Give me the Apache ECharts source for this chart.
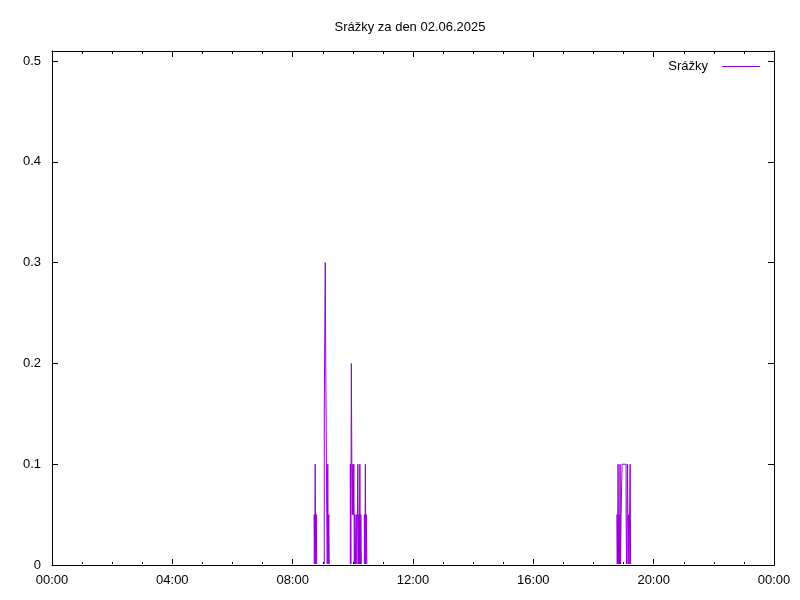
<!DOCTYPE html>
<html>
<head>
<meta charset="utf-8">
<script src="https://cdn.jsdelivr.net/npm/echarts@6/dist/echarts.min.js"></script>
<style>
html,body{margin:0;padding:0;background:#fff;}
#chart{width:800px;height:600px;}
</style>
</head>
<body>
<div id="chart"></div>
<script>
// Rain readings (time of change, value held until the next entry)
var rainTimes = [
  "00:00",
  "08:43","08:44","08:45","08:46","08:47","08:48",
  "09:03","09:05","09:06","09:08","09:09","09:10","09:11","09:12","09:13",
  "09:55","09:56","09:57","09:58","09:59","10:00","10:01","10:02","10:03",
  "10:04","10:05","10:07","10:08","10:10","10:11","10:12","10:13","10:14","10:15","10:16","10:17",
  "10:23","10:24","10:25","10:26","10:27","10:28",
  "18:47","18:48","18:49","18:50","18:51","18:52","18:53","18:54","18:55","18:57","19:05","19:06",
  "19:08","19:09","19:10","19:11","19:13","19:14",
  "24:00"
];
var rainValues = [
  0,
  0.05,0,0.1,0,0.05,0,
  0.15,0.3,0.2,0.05,0,0.1,0,0.05,0,
  0.1,0,0.2,0.1,0.05,0.1,0.05,0.1,0,
  0.05,0,0.05,0,0.1,0,0.05,0,0.1,0,0.05,0,
  0.05,0,0.1,0,0.05,0,
  0.05,0,0.1,0,0.05,0,0.1,0,0.05,0.1,0.05,0,
  0.1,0,0.05,0,0.1,0,
  0
];
var xTickLabels = ["00:00","04:00","08:00","12:00","16:00","20:00","00:00"];
var yTickLabels = ["0","0.1","0.2","0.3","0.4","0.5"];
var titleText = 'Srážky za den 02.06.2025';
var seriesName = 'Srážky';

function toMin(t){var p=t.split(":");return (+p[0])*60+(+p[1]);}
var seriesData = rainTimes.map(function(t,i){return [toMin(t), rainValues[i]];});

var FONT = "Liberation Sans";
var tickStyle = {show:true, inside:true, length:6, lineStyle:{color:'#000', width:1}};
var minorStyle = {show:true, splitNumber:4, length:3, lineStyle:{color:'#000', width:1}};
var lineStyle = {show:true, onZero:false, lineStyle:{color:'#000', width:1}};

var chart = echarts.init(document.getElementById('chart'), null, {renderer:'canvas'});
chart.setOption({
  animation:false,
  backgroundColor:'#fff',
  graphic:[{
    type:'text', x:410, y:27, z:10,
    style:{text:titleText, x:0, y:0, textAlign:'center', textVerticalAlign:'middle',
      font:'13px "Liberation Sans"', fill:'#000'}
  },{
    // hide the anti-aliased half row of the zero-level trace above the border
    type:'line', z:99, silent:true,
    shape:{x1:53, y1:564.5, x2:774, y2:564.5},
    style:{stroke:'#fff', lineWidth:1}
  },{
    // gnuplot border drawn over the plotted data along the baseline
    type:'line', z:100, silent:true,
    shape:{x1:52, y1:565.5, x2:774.5, y2:565.5},
    style:{stroke:'#000', lineWidth:1}
  }],
  legend:{
    right:35, top:55, align:'right', icon:'rect',
    itemWidth:38, itemHeight:1,
    textStyle:{fontFamily:FONT, fontSize:13, color:'#000', padding:[0,9,0,0]},
    data:[seriesName]
  },
  grid:{left:52, right:26, top:51, bottom:35, containLabel:false},
  xAxis:[{
    type:'value', min:0, max:1440, interval:240, z:5,
    axisLine:lineStyle, axisTick:tickStyle, minorTick:minorStyle,
    splitLine:{show:false},
    axisLabel:{margin:9, fontFamily:FONT, fontSize:13, color:'#000',
      formatter:function(v){return xTickLabels[Math.round(v/240)];}}
  },{
    type:'value', position:'top', min:0, max:1440, interval:240, z:5,
    axisLine:lineStyle, axisTick:tickStyle, minorTick:minorStyle,
    splitLine:{show:false}, axisLabel:{show:false}
  }],
  yAxis:[{
    type:'value', min:0, max:0.51, interval:0.1, z:5,
    axisLine:lineStyle, axisTick:tickStyle, splitLine:{show:false},
    axisLabel:{margin:11, fontFamily:FONT, fontSize:13, color:'#000',
      showMaxLabel:false,
      formatter:function(v){var k=Math.round(v*10);return Math.abs(v*10-k)<1e-6 && k<yTickLabels.length ? yTickLabels[k] : '';}}
  },{
    type:'value', position:'right', min:0, max:0.51, interval:0.1, z:5,
    axisLine:lineStyle, axisTick:tickStyle, splitLine:{show:false},
    axisLabel:{show:false}
  }],
  series:[{
    name:seriesName, type:'line', step:'end', z:1,
    xAxisIndex:0, yAxisIndex:0,
    data:seriesData, symbol:'none',
    lineStyle:{color:'#9400d3', width:1},
    itemStyle:{color:'#9400d3'}
  }]
});
</script>
</body>
</html>
